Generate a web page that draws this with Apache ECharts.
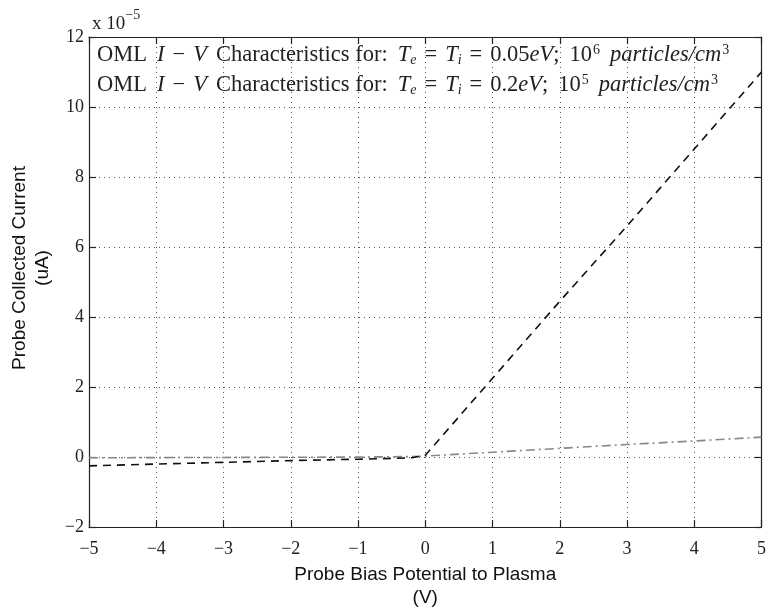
<!DOCTYPE html>
<html>
<head>
<meta charset="utf-8">
<script src="https://cdn.jsdelivr.net/npm/echarts@6/dist/echarts.min.js"></script>
<style>
  html, body { margin: 0; padding: 0; background: #fff; }
  #chart { width: 769px; height: 614px; }
</style>
</head>
<body>
<div id="chart"></div>
<script>
// Probe bias potential (V)
const biasV = [-5, -4, -3, -2, -1, -0.5, -0.2, 0, 1, 2, 3, 4, 5];
// Collected current (x 1e-5 uA), Te = Ti = 0.05 eV, n = 1e6 /cm^3
const currentLowT = [-0.25, -0.2, -0.15, -0.1, -0.06, -0.04, -0.02, 0.05, 2.25, 4.45, 6.6, 8.8, 11.0];
// Collected current (x 1e-5 uA), Te = Ti = 0.2 eV, n = 1e5 /cm^3
const currentHighT = [-0.02, -0.015, -0.01, -0.005, 0.0, 0.01, 0.015, 0.03, 0.14, 0.25, 0.36, 0.46, 0.57];

const xTicks = { min: -5, max: 5, step: 1 };
const yTicks = { min: -2, max: 12, step: 2 };

const nameLowT = 'OML I − V Characteristics for: Te = Ti = 0.05eV; 10^6 particles/cm^3';
const nameHighT = 'OML I − V Characteristics for: Te = Ti = 0.2eV; 10^5 particles/cm^3';

// Legend entries typeset as rich text (italic math, sub/superscripts, math spacing)
const legendRich = {
  [nameLowT]: '{n|OML}{i2|I}{op|−}{i|V}{n3|Characteristics for:}{i2|T}{sub|e}{op|=}{i|T}{sub|i}{op|=}{n|0.05}{i|eV}{n|;}{n2|10}{sup|6}{i2|particles/cm}{sup|3}',
  [nameHighT]: '{n|OML}{i2|I}{op|−}{i|V}{n3|Characteristics for:}{i2|T}{sub|e}{op|=}{i|T}{sub|i}{op|=}{n|0.2}{i|eV}{n|;}{n2|10}{sup|5}{i2|particles/cm}{sup|3}'
};

const serif = 'Liberation Serif';
const minus = v => String(v).replace('-', '−');
const fs = 22.5;
const txt = (extra) => Object.assign({ fontFamily: serif, fontSize: fs, lineHeight: 24, color: '#222', verticalAlign: 'bottom' }, extra);

const chart = echarts.init(document.getElementById('chart'), null, { renderer: 'canvas' });

const baseX = {
  type: 'value', min: xTicks.min, max: xTicks.max, interval: xTicks.step,
  axisLine: { show: true, onZero: false, lineStyle: { color: '#222', width: 1.2 } },
  axisTick: { show: true, inside: true, length: 7, lineStyle: { color: '#222', width: 1.2 } }
};
const baseY = {
  type: 'value', min: yTicks.min, max: yTicks.max, interval: yTicks.step,
  axisLine: { show: true, onZero: false, lineStyle: { color: '#222', width: 1.2 } },
  axisTick: { show: true, inside: true, length: 7, lineStyle: { color: '#222', width: 1.2 } }
};

chart.setOption({
  animation: false,
  backgroundColor: '#fff',
  grid: { left: 89, right: 6, top: 37, bottom: 80, containLabel: false },
  xAxis: [
    Object.assign({}, baseX, {
      position: 'bottom',
      axisLabel: { color: '#222', fontFamily: serif, fontSize: 18, margin: 13, formatter: minus },
      splitLine: { show: true, lineStyle: { color: '#555', type: [1, 4], width: 1 } },
      name: 'Probe Bias Potential to Plasma\n(V)',
      nameLocation: 'middle', nameGap: 33,
      nameTextStyle: { color: '#111', fontFamily: 'Liberation Sans', fontSize: 19, lineHeight: 23 }
    }),
    Object.assign({}, baseX, {
      position: 'top',
      axisLabel: { show: false },
      splitLine: { show: false }
    })
  ],
  yAxis: [
    Object.assign({}, baseY, {
      position: 'left',
      axisLabel: { color: '#222', fontFamily: serif, fontSize: 18, margin: 5, formatter: minus },
      splitLine: { show: true, lineStyle: { color: '#555', type: [1, 4], width: 1 } }
    }),
    Object.assign({}, baseY, {
      position: 'right',
      axisLabel: { show: false },
      splitLine: { show: false }
    })
  ],
  legend: {
    orient: 'vertical', left: 92, top: 43, itemGap: 6, padding: 0,
    icon: 'none', itemWidth: 0, itemHeight: 0,
    selectedMode: false,
    data: [nameLowT, nameHighT],
    formatter: name => legendRich[name],
    textStyle: {
      color: '#222',
      rich: {
        n: txt({}),
        n2: txt({ padding: [0, 0, 0, 10] }),
        n3: txt({ padding: [0, 0, 0, 9] }),
        i: txt({ fontStyle: 'italic' }),
        i2: txt({ fontStyle: 'italic', padding: [0, 0, 0, 10] }),
        op: txt({ padding: [0, 8, 0, 8] }),
        sub: { fontFamily: serif, fontStyle: 'italic', fontSize: 14, lineHeight: 14, color: '#222', verticalAlign: 'bottom' },
        sup: { fontFamily: serif, fontSize: 14, lineHeight: 14, color: '#222', verticalAlign: 'top', padding: [0, 0, 0, 1] }
      }
    }
  },
  graphic: [
    {
      type: 'text', left: 92, top: 8,
      style: {
        text: '{n|x 10}{s|−5}',
        rich: {
          n: { fontFamily: serif, fontSize: 19, lineHeight: 26, fill: '#222', verticalAlign: 'bottom' },
          s: { fontFamily: serif, fontSize: 14, lineHeight: 14, fill: '#222', verticalAlign: 'top' }
        }
      }
    },
    {
      type: 'text', x: 31, y: 268, rotation: Math.PI / 2,
      style: {
        text: 'Probe Collected Current\n(uA)',
        fontFamily: 'Liberation Sans', fontSize: 19, lineHeight: 23,
        fill: '#111', align: 'center', verticalAlign: 'middle'
      }
    }
  ],
  series: [
    {
      name: nameLowT, type: 'line', xAxisIndex: 0, yAxisIndex: 0,
      data: biasV.map((v, k) => [v, currentLowT[k]]),
      showSymbol: false, symbol: 'none',
      lineStyle: { color: '#111', width: 1.6, type: [8, 6] },
      z: 3
    },
    {
      name: nameHighT, type: 'line', xAxisIndex: 0, yAxisIndex: 0,
      data: biasV.map((v, k) => [v, currentHighT[k]]),
      showSymbol: false, symbol: 'none',
      lineStyle: { color: '#888', width: 1.6, type: [9, 4, 2, 4] },
      z: 2
    }
  ]
});
</script>
</body>
</html>
